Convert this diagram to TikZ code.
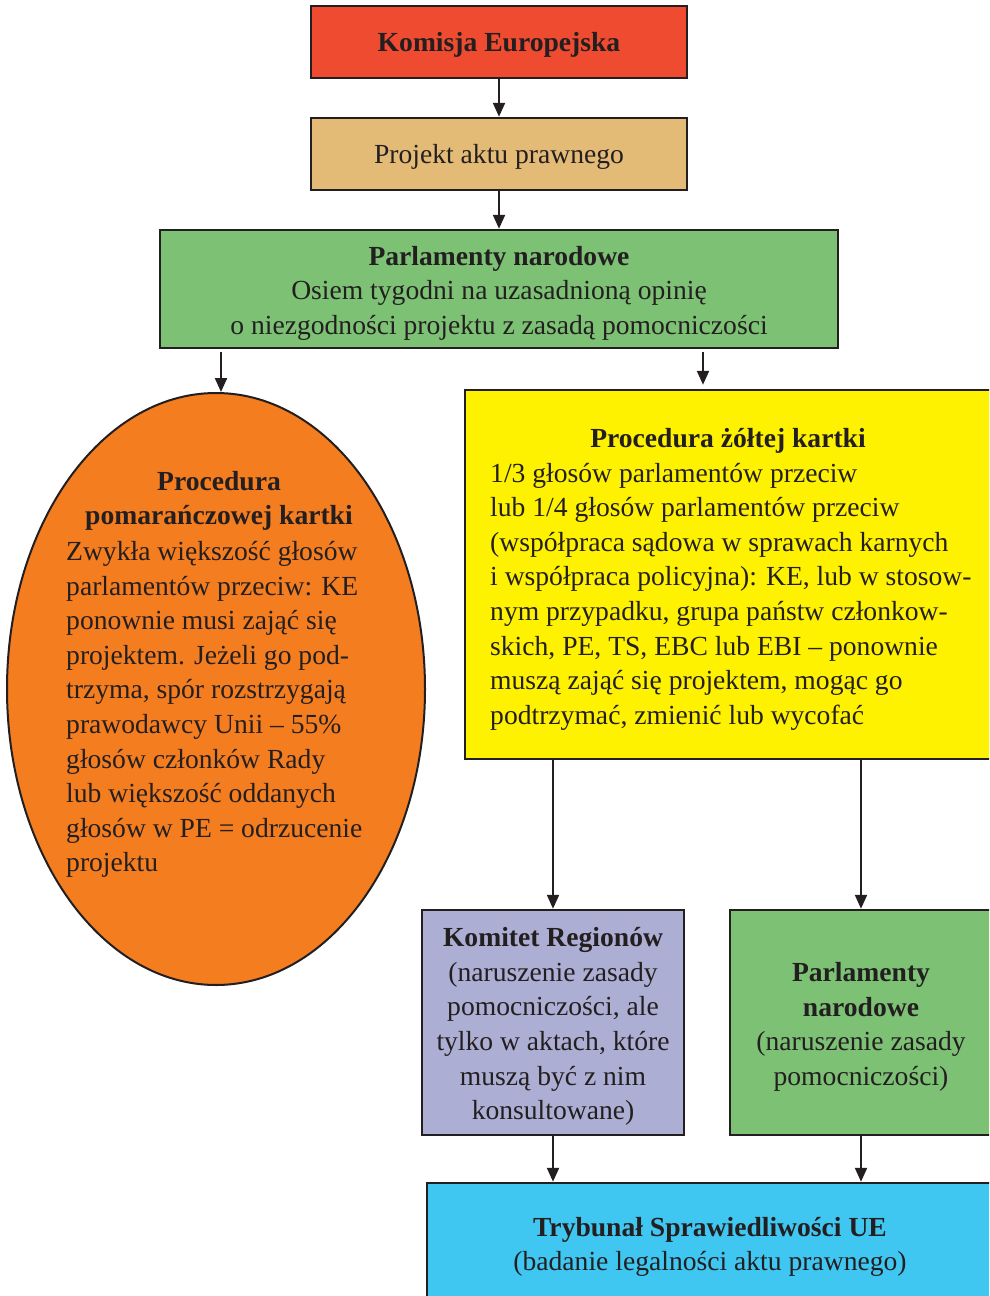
\documentclass[tikz,border=0pt]{standalone}
\usepackage{fontspec}
\setmainfont{Liberation Serif}
\usetikzlibrary{shapes.geometric,arrows.meta}
\definecolor{cRed}{HTML}{EF4B30}
\definecolor{cTan}{HTML}{E3BB76}
\definecolor{cGreen}{HTML}{7DC175}
\definecolor{cOrange}{HTML}{F47D20}
\definecolor{cYellow}{HTML}{FFF200}
\definecolor{cLav}{HTML}{ADAED3}
\definecolor{cCyan}{HTML}{3FC7F2}
\definecolor{cLine}{HTML}{231F20}
\tikzset{
  box/.style={draw=cLine, line width=2.5pt, inner sep=0pt, align=center, text=cLine,
    font=\fontsize{27.6}{34.6}\selectfont},
  txt/.style={inner sep=0pt, text=cLine, font=\fontsize{27.6}{34.6}\selectfont},
  arr/.style={draw=cLine, line width=2.2pt, -{Triangle[length=14pt,width=12pt]}},
}
\begin{document}
\begin{tikzpicture}[x=1pt,y=-1pt]
\useasboundingbox (0,0) rectangle (989,1296);
\clip (0,0) rectangle (989,1296);
\node[box, fill=cRed, minimum width=376pt, minimum height=72pt] (komisja) at (499,42) {};
\node[txt] (komisjat) at (499,45) {\textbf{Komisja Europejska}};
\node[box, fill=cTan, minimum width=376pt, minimum height=72pt] (projekt) at (499,154) {};
\node[txt] (projektt) at (499,157) {Projekt aktu prawnego};
\node[box, fill=cGreen, minimum width=678pt, minimum height=118pt] (parl) at (499,289) {};
\node[txt, align=center] (parlt) at (499,293)
  {\textbf{Parlamenty narodowe}\\Osiem tygodni na uzasadnioną opinię\\o niezgodności projektu z zasadą pomocniczości};
\node[ellipse, draw=cLine, line width=2pt, fill=cOrange, minimum width=418pt, minimum height=592pt, inner sep=0pt] (orange) at (216,689) {};
\node[txt, align=center] (otitle) at (219,501) {\textbf{Procedura}\\\textbf{pomarańczowej kartki}};
\node[txt, align=left, anchor=west] (obody) at (66,709.5)
  {Zwykła większość głosów\\parlamentów przeciw: KE\\ponownie musi zająć się\\projektem. Jeżeli go pod-\\trzyma, spór rozstrzygają\\prawodawcy Unii – 55\%\\głosów członków Rady\\lub większość oddanych\\głosów w PE = odrzucenie\\projektu};
\node[box, fill=cYellow, minimum width=526pt, minimum height=369pt] (yellow) at (728,574.5) {};
\node[txt, align=center] (ytitle) at (728,441) {\textbf{Procedura żółtej kartki}};
\node[txt, align=left, anchor=west] (ybody) at (490,596.5)
  {1/3 głosów parlamentów przeciw\\lub 1/4 głosów parlamentów przeciw\\(współpraca sądowa w sprawach karnych\\i współpraca policyjna): KE, lub w stosow-\\nym przypadku, grupa państw członkow-\\skich, PE, TS, EBC lub EBI – ponownie\\muszą zająć się projektem, mogąc go\\podtrzymać, zmienić lub wycofać};
\node[box, fill=cLav, minimum width=262pt, minimum height=225pt] (komitet) at (553,1022.5) {};
\node[txt, align=center] (komitett) at (553,1026.5)
  {\textbf{Komitet Regionów}\\(naruszenie zasady\\pomocniczości, ale\\tylko w aktach, które\\muszą być z nim\\konsultowane)};
\node[box, fill=cGreen, minimum width=262pt, minimum height=225pt] (parl2) at (861,1022.5) {};
\node[txt, align=center] (parl2t) at (861,1027)
  {\textbf{Parlamenty}\\\textbf{narodowe}\\(naruszenie zasady\\pomocniczości)};
\node[box, fill=cCyan, minimum width=566pt, minimum height=121pt] (tryb) at (710,1243.5) {};
\node[txt, align=center] (trybt) at (710,1247)
  {\textbf{Trybunał Sprawiedliwości UE}\\(badanie legalności aktu prawnego)};
\draw[arr] (komisja.south) -- (projekt.north);
\draw[arr] (projekt.south) -- (parl.north);
\draw[arr, shorten <=3pt] ([xshift=5pt]orange.north |- parl.south) -- ([xshift=5pt]orange.north);
\draw[arr, shorten <=3pt, shorten >=4pt] ([xshift=-25pt]yellow.north |- parl.south) -- ([xshift=-25pt]yellow.north);
\draw[arr] (komitet.north |- yellow.south) -- (komitet.north);
\draw[arr] (parl2.north |- yellow.south) -- (parl2.north);
\draw[arr] (komitet.south) -- (komitet.south |- tryb.north);
\draw[arr] (parl2.south) -- (parl2.south |- tryb.north);
\end{tikzpicture}
\end{document}
